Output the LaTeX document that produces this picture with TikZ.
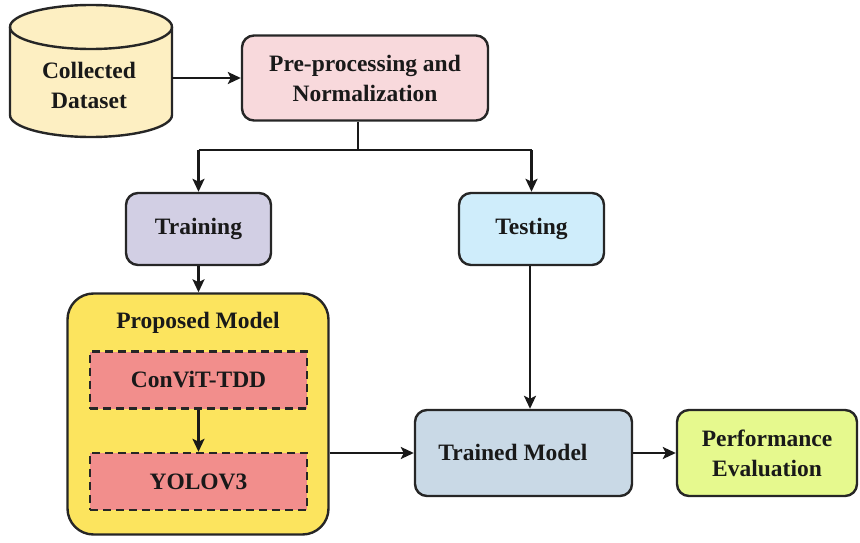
\documentclass[tikz,border=0pt]{standalone}
\usepackage{fontspec}
\setmainfont{Liberation Serif}
\usetikzlibrary{arrows.meta,positioning}
\definecolor{cylfill}{HTML}{FDEFC2}
\definecolor{prefill}{HTML}{F8D9DC}
\definecolor{trainfill}{HTML}{D2CFE4}
\definecolor{testfill}{HTML}{CFEDFB}
\definecolor{propfill}{HTML}{FCE45E}
\definecolor{dashfill}{HTML}{F28E8C}
\definecolor{trainedfill}{HTML}{C9D9E6}
\definecolor{perffill}{HTML}{E6F98E}
\begin{document}
\begin{tikzpicture}[x=1pt,y=1pt,
  every node/.style={font=\fontsize{23.5}{30}\selectfont\bfseries, text=black!90, align=center},
  box/.style={draw=black!85, line width=2.4pt, rounded corners=12pt, inner sep=0pt},
  dbox/.style={draw=black!85, line width=2.4pt, dash pattern=on 8pt off 5pt, fill=dashfill, inner sep=0pt},
  conn/.style={draw=black!90, line width=2.4pt, -{Stealth[length=13pt,width=12pt,inset=3pt]}},
  plain/.style={draw=black!90, line width=2.4pt}]
\useasboundingbox (0,0) rectangle (860,-543);
% cylinder
\draw[fill=cylfill, draw=black!85, line width=2.4pt]
  (10,-27) -- (10,-115) arc[start angle=180,end angle=360,x radius=81,y radius=22] -- (172,-27)
  arc[start angle=0,end angle=180,x radius=81,y radius=22];
\draw[draw=black!85, line width=2.4pt] (10,-27) arc[start angle=180,end angle=360,x radius=81,y radius=22];
\node[minimum width=162pt, minimum height=132pt, inner sep=0pt] (cyl) at (91,-71) {};
\node at (89,-85) {Collected\\Dataset};
% boxes
\node[box, fill=prefill, minimum width=246pt, minimum height=85pt] (pre) at (365,-78) {Pre-processing and\\Normalization};
\node[box, fill=trainfill, minimum width=145pt, minimum height=72pt] (train) at (198.5,-229) {Training};
\node[box, fill=testfill, minimum width=145pt, minimum height=72pt] (test) at (531.5,-229) {Testing};
\node[box, fill=propfill, rounded corners=26pt, minimum width=261pt, minimum height=241pt] (prop) at (198,-414) {};
\node at (198,-323) {Proposed Model};
\node[dbox, minimum width=217pt, minimum height=57pt] (convit) at (198.5,-380) {ConViT-TDD};
\node[dbox, minimum width=217pt, minimum height=57pt] (yolo) at (198.5,-481.5) {YOLOV3};
\node[box, fill=trainedfill, minimum width=217pt, minimum height=86pt] (trained) at (523.5,-453) {};
\node at (513,-452) {Trained Model};
\node[box, fill=perffill, minimum width=180pt, minimum height=86pt] (perf) at (767,-453) {Performance\\Evaluation};
% connectors
\draw[conn] (cyl.east |- pre.west) -- (pre.west);
\coordinate (split) at (358,-150);
\draw[plain] (pre.south -| split) -- (split);
\draw[plain] (train.north |- split) -- (test.north |- split);
\draw[conn] (train.north |- split) -- (train.north);
\draw[conn] (test.north |- split) -- (test.north);
\draw[conn] (train.south) -- (train.south |- prop.north);
\draw[conn] (convit.south) -- (yolo.north);
\draw[conn] (prop.east |- trained.west) -- (trained.west);
\draw[conn] (test.south -| 530,0) -- (trained.north -| 530,0);
\draw[conn] (trained.east) -- (perf.west);
\end{tikzpicture}
\end{document}
